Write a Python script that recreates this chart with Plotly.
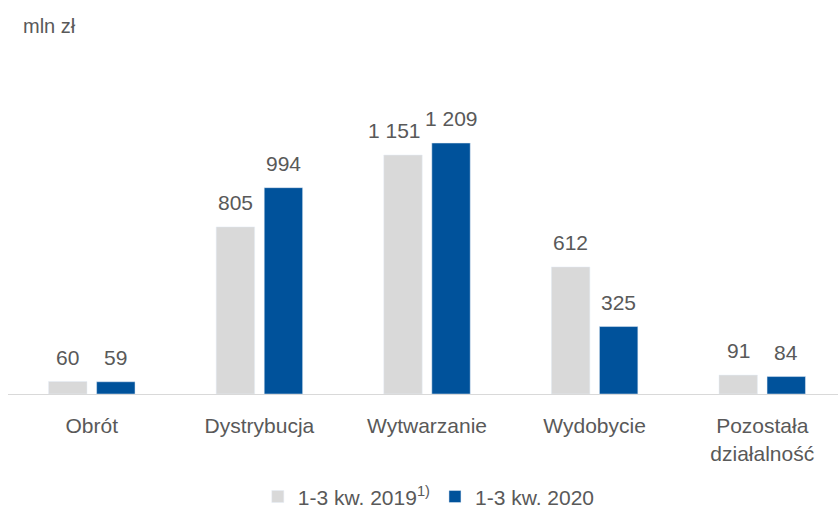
import plotly.graph_objects as go

# dane (mln zł)
categories = ["Obrót", "Dystrybucja", "Wytwarzanie", "Wydobycie", "Pozostała<br>działalność"]
values_2019 = [60, 805, 1151, 612, 91]
values_2020 = [59, 994, 1209, 325, 84]
series_names = ["1-3 kw. 2019<sup>1)</sup>", "1-3 kw. 2020"]

grey = "#d9d9d9"
blue = "#00529b"
text_color = "#595959"
font_family = "Liberation Sans, Arial, sans-serif"


def fmt(v):
    return f"{v:,}".replace(",", "\u00a0")


fig = go.Figure()
fig.add_trace(go.Bar(x=categories, y=values_2019, name=series_names[0], marker_color=grey))
fig.add_trace(go.Bar(x=categories, y=values_2020, name=series_names[1], marker_color=blue))

# etykiety wartości nad słupkami
annotations = []
for vals, shift in ((values_2019, -24), (values_2020, 24)):
    for cat, v in zip(categories, vals):
        # długie etykiety 2019 lekko w lewo, żeby nie nachodziły na sąsiednie
        extra = -9 if (shift < 0 and v >= 1000) else 0
        annotations.append(dict(
            x=cat, y=v, xref="x", yref="y",
            text=fmt(v), showarrow=False,
            yanchor="bottom", xanchor="center",
            xshift=shift + extra, yshift=11,
            font=dict(size=21, color=text_color, family=font_family),
        ))

fig.update_layout(
    width=838,
    height=510,
    margin=dict(l=8, r=0, t=60, b=116, autoexpand=False),
    paper_bgcolor="white",
    plot_bgcolor="white",
    barmode="group",
    bargap=0.427,
    bargroupgap=0.2,
    font=dict(family=font_family, size=21, color=text_color),
    title=dict(
        text="mln zł", x=23 / 838, xref="container", xanchor="left",
        y=1 - 26 / 510, yref="container", yanchor="middle",
        font=dict(size=20, color=text_color, family=font_family),
    ),
    xaxis=dict(
        range=[-0.5, 4.452],
        showline=True, linecolor=grey, linewidth=1,
        showgrid=False, ticks="", ticklabelstandoff=13,
        tickfont=dict(size=21, color=text_color),
    ),
    yaxis=dict(
        range=[0, 1609], visible=False, showgrid=False, zeroline=False,
    ),
    legend=dict(
        orientation="h", x=0.507, xanchor="center", y=-0.308, yanchor="middle",
        font=dict(size=21, color=text_color), itemclick=False,
    ),
    annotations=annotations,
    showlegend=True,
)

fig.write_html("out.html", config={"displayModeBar": False},
               post_script="document.body.style.margin = '0';")
